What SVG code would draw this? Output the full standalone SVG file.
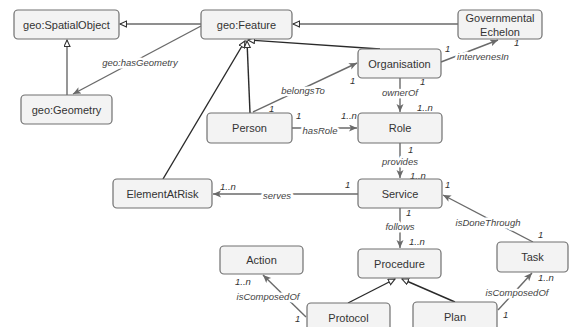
<svg xmlns="http://www.w3.org/2000/svg" width="569" height="327" viewBox="0 0 569 327">
<style>
.n rect{fill:#f3f3f3;stroke:#707070;stroke-width:1.2}
.n text{font-family:"Liberation Sans",Arial,sans-serif;font-size:11px;fill:#333;text-anchor:middle}
.c line{stroke:#6a6a6a;stroke-width:1.4;fill:none}
.c line.g{stroke:#2a2a2a}
.lb{font-family:"Liberation Sans",Arial,sans-serif;font-size:9.5px;font-style:italic;fill:#444;text-anchor:middle;stroke:#fff;stroke-width:5;paint-order:stroke;stroke-linejoin:round}
.m{font-family:"Liberation Sans",Arial,sans-serif;font-size:9.5px;font-style:italic;fill:#333}
</style>
<defs>
<marker id="tri" markerUnits="userSpaceOnUse" markerWidth="9" markerHeight="9" refX="7" refY="3.5" orient="auto">
<path d="M0.5,0.5 L7,3.5 L0.5,6.5 z" fill="#fff" stroke="#333" stroke-width="1.1"/>
</marker>
<marker id="arr" markerUnits="userSpaceOnUse" markerWidth="9" markerHeight="9" refX="8" refY="3.5" orient="auto">
<path d="M0,0 L8,3.5 L0,7 L2,3.5 z" fill="#6a6a6a"/>
</marker>
</defs>
<g class="c" id="connectors">
<line x1="201" y1="24" x2="120" y2="24" marker-end="url(#tri)"/>
<line x1="67" y1="95" x2="67" y2="40" marker-end="url(#tri)"/>
<line x1="201" y1="26" x2="73" y2="94" marker-end="url(#arr)"/>
<line x1="458" y1="24" x2="293" y2="24" marker-end="url(#tri)"/>
<line class="g" x1="380" y1="49" x2="248" y2="40" marker-end="url(#tri)"/>
<line class="g" x1="250" y1="113" x2="247" y2="41" marker-end="url(#tri)"/>
<line class="g" x1="163" y1="179" x2="245" y2="41" marker-end="url(#tri)"/>
<line x1="253" y1="112" x2="357" y2="63" marker-end="url(#arr)"/>
<line x1="441" y1="62" x2="498" y2="40" marker-end="url(#arr)"/>
<line x1="400" y1="78" x2="400" y2="112" marker-end="url(#arr)"/>
<line x1="292" y1="128" x2="357" y2="128" marker-end="url(#arr)"/>
<line x1="400" y1="143" x2="400" y2="178" marker-end="url(#arr)"/>
<line x1="358" y1="194" x2="213" y2="194" marker-end="url(#arr)"/>
<line x1="533" y1="242" x2="443" y2="195" marker-end="url(#arr)"/>
<line x1="400" y1="208" x2="400" y2="248" marker-end="url(#arr)"/>
<line class="g" x1="348" y1="303" x2="395" y2="279" marker-end="url(#tri)"/>
<line class="g" x1="455" y1="302" x2="402" y2="279" marker-end="url(#tri)"/>
<line x1="306" y1="317" x2="263" y2="275" marker-end="url(#arr)"/>
<line x1="498" y1="310" x2="532" y2="273" marker-end="url(#arr)"/>
<text class="lb" x="140" y="66">geo:hasGeometry</text>
<text class="lb" x="303" y="94">belongsTo</text>
<text class="lb" x="483" y="60">intervenesIn</text>
<text class="lb" x="400" y="96">ownerOf</text>
<text class="lb" x="320" y="134">hasRole</text>
<text class="lb" x="400" y="165">provides</text>
<text class="lb" x="277" y="199">serves</text>
<text class="lb" x="488" y="226">isDoneThrough</text>
<text class="lb" x="400" y="230">follows</text>
<text class="lb" x="268" y="300">isComposedOf</text>
<text class="lb" x="517" y="296">isComposedOf</text>
<text class="m" x="269" y="112">1</text>
<text class="m" x="350" y="84">1</text>
<text class="m" x="445" y="52">1</text>
<text class="m" x="514" y="46">1</text>
<text class="m" x="420" y="85">1</text>
<text class="m" x="417" y="111">1..n</text>
<text class="m" x="296" y="119">1</text>
<text class="m" x="341" y="119">1..n</text>
<text class="m" x="408" y="153">1</text>
<text class="m" x="410" y="179">1..n</text>
<text class="m" x="220" y="190">1..n</text>
<text class="m" x="345" y="188">1</text>
<text class="m" x="445" y="188">1</text>
<text class="m" x="538" y="238">1</text>
<text class="m" x="406" y="216">1</text>
<text class="m" x="409" y="245">1..n</text>
<text class="m" x="235" y="285">1..n</text>
<text class="m" x="295" y="322">1</text>
<text class="m" x="538" y="281">1..n</text>
<text class="m" x="503" y="318">1</text>
</g>
<g class="n" id="n-spatialobject"><rect x="14" y="10" width="105" height="29" rx="4"/><text x="66.5" y="28.5">geo:SpatialObject</text></g>
<g class="n" id="n-geometry"><rect x="21" y="95" width="91" height="29" rx="4"/><text x="66.5" y="113.5">geo:Geometry</text></g>
<g class="n" id="n-feature"><rect x="201" y="10" width="91" height="29" rx="4"/><text x="246.5" y="28.5">geo:Feature</text></g>
<g class="n" id="n-echelon"><rect x="458" y="10" width="84" height="29" rx="4"/><text x="500" y="21.5">Governmental</text><text x="500" y="35.5">Echelon</text></g>
<g class="n" id="n-organisation"><rect x="358" y="49" width="83" height="29" rx="4"/><text x="399.5" y="67.5">Organisation</text></g>
<g class="n" id="n-person"><rect x="207" y="113" width="85" height="30" rx="4"/><text x="249.5" y="132">Person</text></g>
<g class="n" id="n-role"><rect x="358" y="113" width="84" height="30" rx="4"/><text x="400" y="132">Role</text></g>
<g class="n" id="n-elementatrisk"><rect x="113" y="179" width="99" height="29" rx="4"/><text x="162.5" y="197.5">ElementAtRisk</text></g>
<g class="n" id="n-service"><rect x="358" y="179" width="84" height="29" rx="4"/><text x="400" y="197.5">Service</text></g>
<g class="n" id="n-action"><rect x="220" y="246" width="83" height="28" rx="4"/><text x="261.5" y="264">Action</text></g>
<g class="n" id="n-procedure"><rect x="358" y="249" width="83" height="29" rx="4"/><text x="399.5" y="267.5">Procedure</text></g>
<g class="n" id="n-task"><rect x="497" y="242" width="71" height="30" rx="4"/><text x="532.5" y="261">Task</text></g>
<g class="n" id="n-protocol"><rect x="307" y="303" width="83" height="40" rx="4"/><text x="348.5" y="322">Protocol</text></g>
<g class="n" id="n-plan"><rect x="413" y="302" width="84" height="40" rx="4"/><text x="455" y="321">Plan</text></g>
</svg>
